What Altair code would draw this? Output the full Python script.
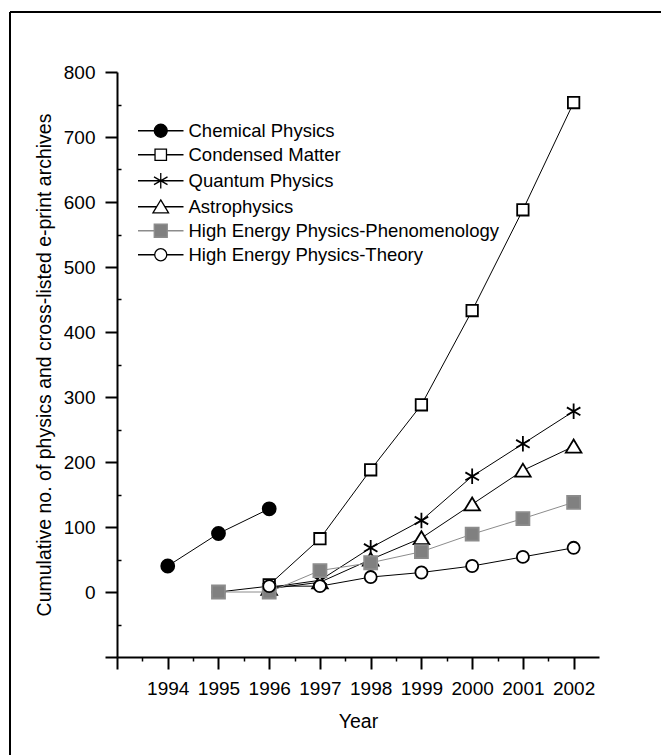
import altair as alt
import pandas as pd

FONT = "Liberation Sans"
FS_LEG = 18.5
FS_TICK = 19
FS_TITLE = 19.5

series_names = [
    "Chemical Physics",
    "Condensed Matter",
    "Quantum Physics",
    "Astrophysics",
    "High Energy Physics-Phenomenology",
    "High Energy Physics-Theory",
]

chem_years = [1994, 1995, 1996]
chem_vals = [40, 90, 128]
cond_years = [1996, 1997, 1998, 1999, 2000, 2001, 2002]
cond_vals = [11, 82, 188, 288, 433, 588, 753]
quant_years = [1996, 1997, 1998, 1999, 2000, 2001, 2002]
quant_vals = [7, 18, 68, 110, 178, 228, 278]
astro_years = [1996, 1997, 1998, 1999, 2000, 2001, 2002]
astro_vals = [5, 15, 50, 83, 135, 187, 224]
phen_years = [1995, 1996, 1997, 1998, 1999, 2000, 2001, 2002]
phen_vals = [0, 0, 33, 45, 62, 89, 113, 138]
theo_years = [1995, 1996, 1997, 1998, 1999, 2000, 2001, 2002]
theo_vals = [0, 9, 9, 23, 30, 40, 54, 68]

x_major = [1993, 1994, 1995, 1996, 1997, 1998, 1999, 2000, 2001, 2002]
x_minor = [1993.5, 1994.5, 1995.5, 1996.5, 1997.5, 1998.5, 1999.5, 2000.5, 2001.5]
y_major = [-100, 0, 100, 200, 300, 400, 500, 600, 700, 800]
y_minor = [-50, 50, 150, 250, 350, 450, 550, 650, 750]

GRAY_FILL = "#808080"
GRAY_LINE = "#8c8c8c"
fills = ["black", "white", "transparent", "white", GRAY_FILL, "white"]
strokes = ["black", "black", "black", "black", GRAY_LINE, "black"]

# marker shapes (unit coordinates, scaled by sqrt(size)/2)
def circ(r):
    return f"M{-r},0A{r},{r} 0 1,0 {r},0A{r},{r} 0 1,0 {-r},0Z"

def sq(h):
    return f"M{-h},{-h}H{h}V{h}H{-h}Z"

ASTER = "M0,-1.2V1.2M-1.04,-0.6L1.04,0.6M-1.04,0.6L1.04,-0.6"
TRI = "M0,-1.05L1.2,0.95L-1.2,0.95Z"
markers = [circ(1.0), sq(0.88), ASTER, TRI, sq(1.0), circ(0.93)]
edges = [1.0, 0.88, 0.0, 0.6, 1.0, 0.93]
L = 3.5
legend_paths = [
    (f"M{-L},0H{-e}M{e},0H{L}" if e > 0 else f"M{-L},0H{L}") + m
    for m, e in zip(markers, edges)
]

rows = []
for name, yrs, vs in zip(
    series_names,
    [chem_years, cond_years, quant_years, astro_years, phen_years, theo_years],
    [chem_vals, cond_vals, quant_vals, astro_vals, phen_vals, theo_vals],
):
    z = series_names.index(name)
    for yr, v in zip(yrs, vs):
        zz = -1 if (name == series_names[-1] and yr == 1995) else z
        rows.append({"series": name, "year": yr, "value": v, "z": zz})
df = pd.DataFrame(rows).sort_values("z", kind="stable").reset_index(drop=True)

xs = alt.Scale(domain=[1993, 2002.5], nice=False, zero=False)
ys = alt.Scale(domain=[-100, 800], nice=False, zero=False)


def stroke_scale():
    return alt.Scale(domain=series_names, range=strokes)


def fill_scale():
    return alt.Scale(domain=series_names, range=fills)


base = alt.Chart(df)

lines = base.mark_line(strokeWidth=1).encode(
    x=alt.X("year:Q", scale=xs, axis=None),
    y=alt.Y("value:Q", scale=ys, axis=None),
    stroke=alt.Stroke("series:N", scale=stroke_scale(), legend=None),
    detail="series:N",
    order="year:Q",
)

points = base.mark_point(size=169, strokeWidth=1.8, opacity=1).encode(
    x=alt.X(
        "year:Q",
        scale=xs,
        axis=alt.Axis(
            orient="bottom",
            values=x_major,
            format="d",
            labelExpr="datum.value == 1993 ? '' : datum.label",
            tickSize=12,
            tickWidth=2,
            tickColor="black",
            domainWidth=2,
            domainColor="black",
            labelFont=FONT,
            labelFontSize=FS_TICK,
            labelColor="black",
            labelBaseline="alphabetic",
            labelPadding=25,
            labelFlush=False,
            labelOverlap=False,
            grid=False,
            title="Year",
            titleFont=FONT,
            titleFontSize=FS_TITLE,
            titleFontWeight="normal",
            titleColor="black",
            titleBaseline="alphabetic",
            titleY=70,
        ),
    ),
    y=alt.Y(
        "value:Q",
        scale=ys,
        axis=alt.Axis(
            orient="left",
            values=y_major,
            format="d",
            labelExpr="datum.value == -100 ? '' : datum.label",
            tickSize=12,
            tickWidth=2,
            tickColor="black",
            domainWidth=2,
            domainColor="black",
            labelFont=FONT,
            labelFontSize=FS_TICK,
            labelColor="black",
            labelPadding=10,
            labelFlush=False,
            labelOverlap=False,
            grid=False,
            title="Cumulative no. of physics and cross-listed e-print archives",
            titleFont=FONT,
            titleFontSize=FS_TITLE,
            titleFontWeight="normal",
            titleColor="black",
            titleBaseline="alphabetic",
            titleX=-67,
            titleY=292.5,
        ),
    ),
    shape=alt.Shape("series:N", scale=alt.Scale(domain=series_names, range=markers), legend=None),
    fill=alt.Fill("series:N", scale=fill_scale(), legend=None),
    stroke=alt.Stroke("series:N", scale=stroke_scale(), legend=None),
)

minor = base.mark_point(opacity=0).encode(
    x=alt.X(
        "year:Q",
        scale=xs,
        axis=alt.Axis(
            orient="bottom",
            values=x_minor,
            labels=False,
            domain=False,
            grid=False,
            tickSize=4,
            tickWidth=1.5,
            tickColor="black",
            title=None,
        ),
    ),
    y=alt.Y(
        "value:Q",
        scale=ys,
        axis=alt.Axis(
            orient="right",
            offset=-482,
            values=y_minor,
            labels=False,
            domain=False,
            grid=False,
            tickSize=4,
            tickWidth=1.5,
            tickColor="black",
            title=None,
        ),
    ),
)


def make_legend():
    return alt.Legend(
        title=None,
        orient="none",
        legendX=34.5,
        legendY=49.5,
        padding=0,
        symbolSize=169,
        symbolStrokeWidth=1.3,
        symbolOpacity=1,
        labelFont=FONT,
        labelFontSize=FS_LEG,
        labelColor="black",
        labelOffset=18.5,
        labelLimit=500,
        rowPadding=5,
    )


# legend carrier: draws nothing itself, supplies the legend entries
legend_layer = base.transform_filter("false").mark_point(size=169, strokeWidth=1.3).encode(
    shape=alt.Shape("series:N", scale=alt.Scale(domain=series_names, range=legend_paths), legend=make_legend()),
    fill=alt.Fill("series:N", scale=fill_scale(), legend=make_legend()),
    stroke=alt.Stroke("series:N", scale=stroke_scale(), legend=make_legend()),
)

frame_df = pd.DataFrame({"k": [0]})
left_frame = alt.Chart(frame_df).mark_rule(color="black", strokeWidth=2).encode(
    x=alt.value(-107), y=alt.value(-60), y2=alt.value(720)
)
top_frame = alt.Chart(frame_df).mark_rule(color="black", strokeWidth=2).encode(
    x=alt.value(-107), x2=alt.value(600), y=alt.value(-60)
)

chart = (
    alt.layer(left_frame, top_frame, lines, points, minor, legend_layer)
    .resolve_axis(x="independent", y="independent")
    .resolve_scale(shape="independent", fill="independent", stroke="independent")
    .properties(
        width=482,
        height=585,
        autosize=alt.AutoSizeParams(type="none"),
        padding={"left": 117, "top": 72, "right": 62, "bottom": 98},
        background="white",
    )
    .configure_view(strokeWidth=0)
)

chart.save("out.html", embed_options={"renderer": "svg", "actions": False})
